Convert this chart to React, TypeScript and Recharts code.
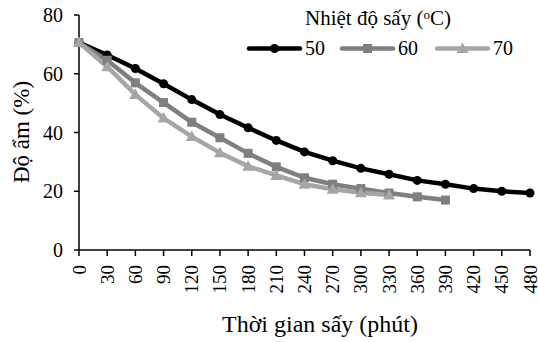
import React from "react";
import { LineChart, Line, XAxis, YAxis } from "recharts";

const times = [0, 30, 60, 90, 120, 150, 180, 210, 240, 270, 300, 330, 360, 390, 420, 450, 480];
const s50 = [70.6, 66.4, 61.8, 56.6, 51.2, 46.1, 41.6, 37.3, 33.4, 30.4, 27.8, 25.8, 23.7, 22.4, 20.9, 20.0, 19.4];
const s60 = [70.6, 64.6, 56.9, 50.2, 43.5, 38.2, 32.9, 28.3, 24.6, 22.4, 20.9, 19.4, 18.1, 17.0];
const s70 = [70.6, 62.4, 52.9, 44.9, 38.6, 33.1, 28.5, 25.4, 22.4, 20.7, 19.5, 18.7];
const xTicks = times;
const yTicks = [0, 20, 40, 60, 80];
const seriesNames = ["50", "60", "70"];
const colors = ["#000000", "#7f7f7f", "#a6a6a6"];

const data = times.map((t, i) => ({
  t,
  s50: s50[i],
  s60: s60[i],
  s70: s70[i],
}));

const FONT = "'Times New Roman', 'Liberation Serif', serif";

const Circle = (props: any) => {
  const { cx, cy } = props;
  if (cx == null || cy == null) return null;
  return <circle cx={cx} cy={cy} r={4.5} fill={colors[0]} />;
};
const Square = (props: any) => {
  const { cx, cy } = props;
  if (cx == null || cy == null) return null;
  return <rect x={cx - 4.5} y={cy - 4.5} width={9} height={9} fill={colors[1]} />;
};
const Tri = (props: any) => {
  const { cx, cy } = props;
  if (cx == null || cy == null) return null;
  return <polygon points={`${cx},${cy - 6} ${cx - 6},${cy + 4.5} ${cx + 6},${cy + 4.5}`} fill={colors[2]} />;
};

const XTick = (props: any) => {
  const { x, y, payload } = props;
  return (
    <text
      x={x}
      y={y}
      transform={`rotate(-90 ${x} ${y})`}
      textAnchor="end"
      dominantBaseline="central"
      style={{ fontFamily: FONT }}
      fontSize={19}
      fill="#000"
      dx={-7}
    >
      {payload.value}
    </text>
  );
};

const YTick = (props: any) => {
  const { x, y, payload } = props;
  return (
    <text x={x - 9} y={y} textAnchor="end" dominantBaseline="central" style={{ fontFamily: FONT }} fontSize={20} fill="#000">
      {payload.value}
    </text>
  );
};

const LegendIcon = ({ idx }: { idx: number }) => (
  <svg width={57} height={14} style={{ display: "block" }}>
    <line x1={3} y1={7} x2={54} y2={7} stroke={colors[idx]} strokeWidth={4.5} strokeLinecap="round" />
    {idx === 0 && <circle cx={28.5} cy={7} r={4.5} fill={colors[0]} />}
    {idx === 1 && <rect x={24} y={2.5} width={9} height={9} fill={colors[1]} />}
    {idx === 2 && <polygon points="28.5,1 22.5,11.5 34.5,11.5" fill={colors[2]} />}
  </svg>
);

const legendX = [246, 339, 434];

const CustomLegend = () => (
  <>
    <div
      style={{
        position: "absolute",
        left: 378,
        top: 18,
        transform: "translate(-50%, -50%)",
        fontFamily: FONT,
        fontSize: 21,
        whiteSpace: "nowrap",
      }}
    >
      Nhiệt độ sấy (<sup style={{ fontSize: 13, verticalAlign: "6px" }}>o</sup>C)
    </div>
    {seriesNames.map((n, i) => (
      <div
        key={n}
        style={{
          position: "absolute",
          left: legendX[i],
          top: 48,
          transform: "translateY(-50%)",
          display: "flex",
          alignItems: "center",
          fontFamily: FONT,
          fontSize: 20,
        }}
      >
        <LegendIcon idx={i} />
        <span style={{ marginLeft: 2 }}>{n}</span>
      </div>
    ))}
  </>
);

export default function App() {
  return (
    <div style={{ position: "absolute", left: 0, top: 0, width: 538, height: 342, background: "#fff" }}>
      <LineChart width={538} height={342} data={data} margin={{ top: 15, right: 8, bottom: 32, left: 39 }}>
        <XAxis
          dataKey="t"
          type="number"
          domain={[0, 480]}
          ticks={xTicks}
          interval={0}
          height={60}
          tick={<XTick />}
          tickSize={6}
          axisLine={{ stroke: "#000", strokeWidth: 1.5 }}
          tickLine={{ stroke: "#000", strokeWidth: 1.5 }}
        />
        <YAxis
          type="number"
          domain={[0, 80]}
          ticks={yTicks}
          width={40}
          tick={<YTick />}
          tickSize={5}
          axisLine={{ stroke: "#000", strokeWidth: 1.5 }}
          tickLine={{ stroke: "#000", strokeWidth: 1.5 }}
        />
        <Line dataKey="s50" name="50" stroke={colors[0]} strokeWidth={4.5} dot={<Circle />} isAnimationActive={false} />
        <Line dataKey="s60" name="60" stroke={colors[1]} strokeWidth={4.5} dot={<Square />} isAnimationActive={false} />
        <Line dataKey="s70" name="70" stroke={colors[2]} strokeWidth={4.5} dot={<Tri />} isAnimationActive={false} />
      </LineChart>
      <CustomLegend />
      <div
        style={{
          position: "absolute",
          left: 22,
          top: 132,
          transform: "translate(-50%, -50%) rotate(-90deg)",
          fontFamily: FONT,
          fontSize: 23,
          whiteSpace: "nowrap",
        }}
      >
        Độ ẩm (%)
      </div>
      <div
        style={{
          position: "absolute",
          left: 320,
          top: 324,
          transform: "translate(-50%, -50%)",
          fontFamily: FONT,
          fontSize: 24,
          whiteSpace: "nowrap",
        }}
      >
        Thời gian sấy (phút)
      </div>
    </div>
  );
}
